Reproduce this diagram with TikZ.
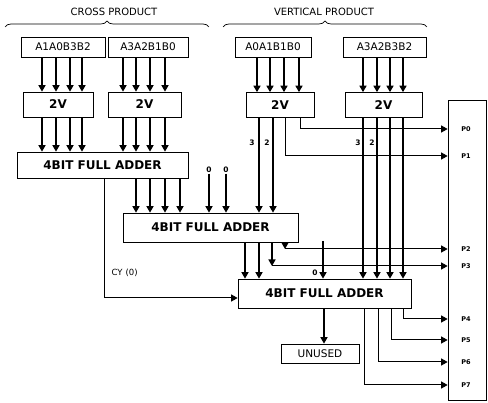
\documentclass[tikz,border=0pt]{standalone}
\usepackage{fontspec}
\setmainfont{DejaVu Sans}
\usetikzlibrary{arrows.meta,decorations.pathreplacing}
\begin{document}
\begin{tikzpicture}[x=1pt,y=-1pt,
  bx/.style={draw,line width=0.7pt,inner sep=0pt},
  inbox/.style={bx,minimum height=20pt,font=\fontsize{10.5}{12}\selectfont},
  vbox/.style={bx,minimum height=25pt,font=\fontsize{12}{14}\selectfont\bfseries},
  fabox/.style={bx,minimum height=29pt,font=\fontsize{12}{14}\selectfont\bfseries},
  ttl/.style={font=\fontsize{10}{12}\selectfont},
  lab/.style={inner sep=0.5pt,font=\fontsize{7.5}{9}\selectfont\bfseries},
  plab/.style={inner sep=0pt,font=\fontsize{6.5}{8}\selectfont\bfseries},
  tip/.style={-{Triangle[length=6.5pt,width=7pt]}},
  arr/.style={line width=1.5pt,tip},
  wire/.style={line width=1pt},
  warr/.style={wire,tip},
  brc/.style={decorate,decoration={brace,amplitude=6pt},line width=0.7pt}
]
\useasboundingbox (0,0) rectangle (488,403);

% titles and braces
\node[ttl] (cpt) at (114,12) {CROSS PRODUCT};
\node[ttl] (vpt) at (324,12) {VERTICAL PRODUCT};
\coordinate (cpl) at (5,27); \coordinate (cpr) at (209,27);
\coordinate (vpl) at (223,27); \coordinate (vpr) at (427,27);
\draw[brc] (cpl) -- (cpr);
\draw[brc] (vpl) -- (vpr);

% boxes
\node[inbox,minimum width=84pt] (in1) at (63,47) {A1A0B3B2};
\node[inbox,minimum width=80pt] (in2) at (148,47) {A3A2B1B0};
\node[inbox,minimum width=76pt] (in3) at (273,47) {A0A1B1B0};
\node[inbox,minimum width=83pt] (in4) at (384.5,47) {A3A2B3B2};
\node[vbox,minimum width=70pt] (v1) at (58,104.5) {2V};
\node[vbox,minimum width=73pt] (v2) at (144.5,104.5) {2V};
\node[vbox,minimum width=68pt] (v3) at (280,105) {2V};
\node[vbox,minimum width=77pt] (v4) at (383.5,105) {2V};
\node[fabox,minimum width=171pt,minimum height=26pt] (fa1) at (102.5,165) {4BIT FULL ADDER};
\node[fabox,minimum width=175pt] (fa2) at (210.5,227.5) {4BIT FULL ADDER};
\node[fabox,minimum width=173pt] (fa3) at (324.5,293.5) {4BIT FULL ADDER};
\node[inbox,minimum width=78pt,minimum height=19pt] (un) at (320,353.5) {UNUSED};
\node[bx,minimum width=38pt,minimum height=300pt] (out) at (467,250) {};

% output labels
\node[plab] (p0) at (466,129) {P0};
\node[plab] (p1) at (466,156) {P1};
\node[plab] (p2) at (466,249) {P2};
\node[plab] (p3) at (466,266) {P3};
\node[plab] (p4) at (466,319) {P4};
\node[plab] (p5) at (466,340) {P5};
\node[plab] (p6) at (466,362) {P6};
\node[plab] (p7) at (466,385) {P7};

% cross product paths
\foreach \x [count=\i] in {42,56,70,82} {
  \coordinate (a\i) at (\x,0);
  \draw[arr] (in1.south -| a\i) -- (v1.north -| a\i);
  \draw[arr] (v1.south -| a\i) -- (fa1.north -| a\i);
}
\foreach \x [count=\i] in {123,136,150,165} {
  \coordinate (b\i) at (\x,0);
  \draw[arr] (in2.south -| b\i) -- (v2.north -| b\i);
  \draw[arr] (v2.south -| b\i) -- (fa1.north -| b\i);
}
\foreach \x [count=\i] in {136,150,165,180} {
  \coordinate (e\i) at (\x,0);
  \draw[arr] (fa1.south -| e\i) -- (fa2.north -| e\i);
}
% vertical product paths
\foreach \x [count=\i] in {257,270,284,299} {
  \coordinate (c\i) at (\x,0);
  \draw[arr] (in3.south -| c\i) -- (v3.north -| c\i);
}
\foreach \x [count=\i] in {363,377,390,403} {
  \coordinate (d\i) at (\x,0);
  \draw[arr] (in4.south -| d\i) -- (v4.north -| d\i);
  \draw[arr] (v4.south -| d\i) -- (fa3.north -| d\i);
}
\node[lab] (l3a) at (252,143) {3};
\node[lab] (l2a) at (267,143) {2};
\node[lab] (l3b) at (358,143) {3};
\node[lab] (l2b) at (372,143) {2};

% second 2V outputs
\coordinate (g3) at (259,0); \coordinate (g2) at (273,0);
\coordinate (g1) at (285,0); \coordinate (g0) at (300,0);
\draw[arr] (v3.south -| g3) -- (fa2.north -| g3);
\draw[arr] (v3.south -| g2) -- (fa2.north -| g2);
\draw[warr] (v3.south -| g0) -- (g0 |- p0) -- (p0 -| out.west);
\draw[warr] (v3.south -| g1) -- (g1 |- p1) -- (p1 -| out.west);

% zero inputs of second adder
\node[lab] (z1) at (209,170) {0};
\node[lab] (z2) at (226,170) {0};
\draw[arr] (z1.south) -- (z1 |- fa2.north);
\draw[arr] (z2.south) -- (z2 |- fa2.north);

% second adder outputs
\foreach \x [count=\i] in {245,259} {
  \coordinate (h\i) at (\x,0);
  \draw[arr] (fa2.south -| h\i) -- (fa3.north -| h\i);
}
\coordinate (h3) at (272,0); \coordinate (h4) at (285,0);
\draw[arr] (fa2.south -| h3) -- (h3 |- p3);
\draw[warr] (h3 |- p3) -- (p3 -| out.west);
\draw[arr] (fa2.south -| h4) -- (h4 |- p2);
\draw[warr] (h4 |- p2) -- (p2 -| out.west);

% zero input of third adder
\coordinate (z3) at (323,241);
\node[lab] (z3l) at (315,273) {0};
\draw[arr] (z3) -- (z3 |- fa3.north);

% carry
\coordinate (cy) at (104,298);
\node[lab,font=\fontsize{8.5}{10}\selectfont,anchor=west] (cyl) at (111,273) {CY\hspace{3pt}(0)};
\draw[warr] (fa1.south -| cy) -- (cy) -- (cy -| fa3.west);

% third adder outputs
\coordinate (u) at (324,0);
\draw[arr] (fa3.south -| u) -- (un.north -| u);
\coordinate (k7) at (364,0); \coordinate (k6) at (378,0);
\coordinate (k5) at (391,0); \coordinate (k4) at (403,0);
\draw[warr] (fa3.south -| k7) -- (k7 |- p7) -- (p7 -| out.west);
\draw[warr] (fa3.south -| k6) -- (k6 |- p6) -- (p6 -| out.west);
\draw[warr] (fa3.south -| k5) -- (k5 |- p5) -- (p5 -| out.west);
\draw[warr] (fa3.south -| k4) -- (k4 |- p4) -- (p4 -| out.west);
\end{tikzpicture}
\end{document}
